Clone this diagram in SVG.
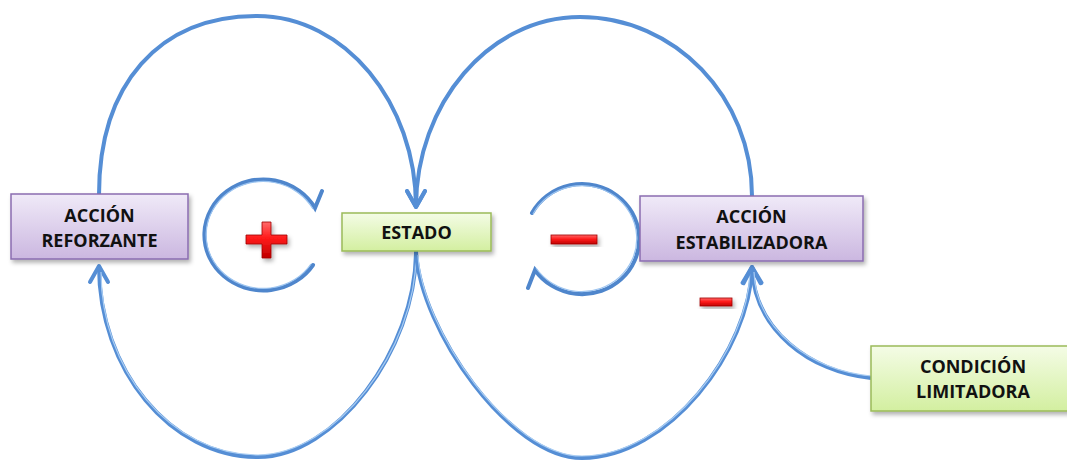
<svg xmlns="http://www.w3.org/2000/svg" width="1067" height="460" viewBox="0 0 1067 460">
  <defs>
    <linearGradient id="gPurple" x1="0" y1="0" x2="0" y2="1">
      <stop offset="0" stop-color="#f0eaf8"/>
      <stop offset="1" stop-color="#cbb7e0"/>
    </linearGradient>
    <linearGradient id="gGreen" x1="0" y1="0" x2="0" y2="1">
      <stop offset="0" stop-color="#f4fce6"/>
      <stop offset="1" stop-color="#d3efa0"/>
    </linearGradient>
    <linearGradient id="gRed" x1="0" y1="0" x2="0" y2="1">
      <stop offset="0" stop-color="#ff6a6a"/>
      <stop offset="0.45" stop-color="#ff1a1a"/>
      <stop offset="1" stop-color="#c00000"/>
    </linearGradient>
    <filter id="shadow" x="-10%" y="-10%" width="130%" height="140%">
      <feDropShadow dx="2" dy="3" stdDeviation="2" flood-color="#000" flood-opacity="0.3"/>
    </filter>
    <marker id="arrow" markerUnits="userSpaceOnUse" viewBox="-20 -12 24 24" refX="0" refY="0" markerWidth="24" markerHeight="24" orient="auto">
      <path d="M-16,-9 L0,0 L-16,9" fill="none" stroke="#558ed5" stroke-width="4" stroke-linecap="round" stroke-linejoin="round"/>
    </marker>
  </defs>
  <style>
    .conn { fill: none; stroke: #558ed5; stroke-width: 4; }
    .hl { fill: none; stroke: #a9cdf3; stroke-width: 1.2; }
    .loop { fill: none; stroke: #4f86cc; stroke-width: 4; stroke-linecap: round; stroke-linejoin: miter; }
    .loophl { fill: none; stroke: #9cc4f0; stroke-width: 1.2; }
    .purple { fill: url(#gPurple); stroke: #8a6cb0; stroke-width: 1.5; filter: url(#shadow); }
    .green { fill: url(#gGreen); stroke: #9bbb59; stroke-width: 1.5; filter: url(#shadow); }
    .sign { fill: url(#gRed); stroke: #a00000; stroke-width: 0.8; filter: url(#shadow); }
    .lbl { font-family: "Open Sans", "Liberation Sans", sans-serif; font-weight: bold; font-size: 18px; fill: #111; text-anchor: middle; }
  </style>

  <g id="connectors">
    <!-- top left arc: ACCIÓN REFORZANTE -> ESTADO -->
    <path class="conn" d="M99,195 C99,84 159,16 257,16 C345,16 416,103 416,207" marker-end="url(#arrow)"/>
    <!-- top right arc: ACCIÓN ESTABILIZADORA -> ESTADO -->
    <path class="conn" d="M752,196 C752,97 675,17 580,17 C489,17 416,104 416,207" marker-end="url(#arrow)"/>
    <!-- bottom left arc: ESTADO -> ACCIÓN REFORZANTE -->
    <path class="conn" d="M416,251 C416,350 335,457 258,457 C170,457 99,369 99,266" marker-end="url(#arrow)"/>
    <path class="hl" d="M416,255 C416,350 335,455 258,455 C170,455 101,369 101,272"/>
    <!-- bottom right arc: ESTADO -> ACCIÓN ESTABILIZADORA -->
    <path class="conn" d="M416,251 C420,330 510,458 582,458 C668,458 750,350 752,267" marker-end="url(#arrow)"/>
    <path class="hl" d="M418,255 C422,330 510,456 582,456 C668,456 748,350 750,272"/>
    <!-- CONDICIÓN LIMITADORA -> ACCIÓN ESTABILIZADORA -->
    <path class="conn" d="M871,378 C810,372 754,330 752,267" marker-end="url(#arrow)"/>
    <path class="hl" d="M871,376 C811,370 756,330 754,272"/>
  </g>

  <g id="loop-positive">
    <path class="loop" d="M313,265 A59,55.5 0 1 1 315,208 L322,191"/>
    <path class="loophl" d="M311,264 A57,53.5 0 1 1 313,209"/>
  </g>
  <g id="loop-negative">
    <path class="loop" d="M532,213 A57,55 0 1 1 535,270 L528,288"/>
    <path class="loophl" d="M533,214 A55,53 0 1 1 536,268"/>
  </g>

  <g id="sign-plus">
    <path class="sign" d="M262,222 H271 V235 H287 V244 H271 V258 H262 V244 H246 V235 H262 Z"/>
  </g>
  <g id="sign-minus-loop">
    <rect class="sign" x="551" y="235" width="46" height="9"/>
  </g>
  <g id="sign-minus-small">
    <rect class="sign" x="700" y="298" width="32" height="8"/>
  </g>

  <g id="node-accion-reforzante">
    <rect class="purple" x="11" y="194" width="177" height="65"/>
    <text class="lbl" x="99.5" y="222">ACCIÓN</text>
    <text class="lbl" x="99.5" y="247">REFORZANTE</text>
  </g>
  <g id="node-estado">
    <rect class="green" x="342" y="213" width="149" height="38"/>
    <text class="lbl" x="416.5" y="239">ESTADO</text>
  </g>
  <g id="node-accion-estabilizadora">
    <rect class="purple" x="640" y="196" width="223" height="65"/>
    <text class="lbl" x="751.5" y="223">ACCIÓN</text>
    <text class="lbl" x="751.5" y="249">ESTABILIZADORA</text>
  </g>
  <g id="node-condicion-limitadora">
    <rect class="green" x="871" y="346" width="204" height="65"/>
    <text class="lbl" x="973" y="373">CONDICIÓN</text>
    <text class="lbl" x="973" y="398">LIMITADORA</text>
  </g>
</svg>
